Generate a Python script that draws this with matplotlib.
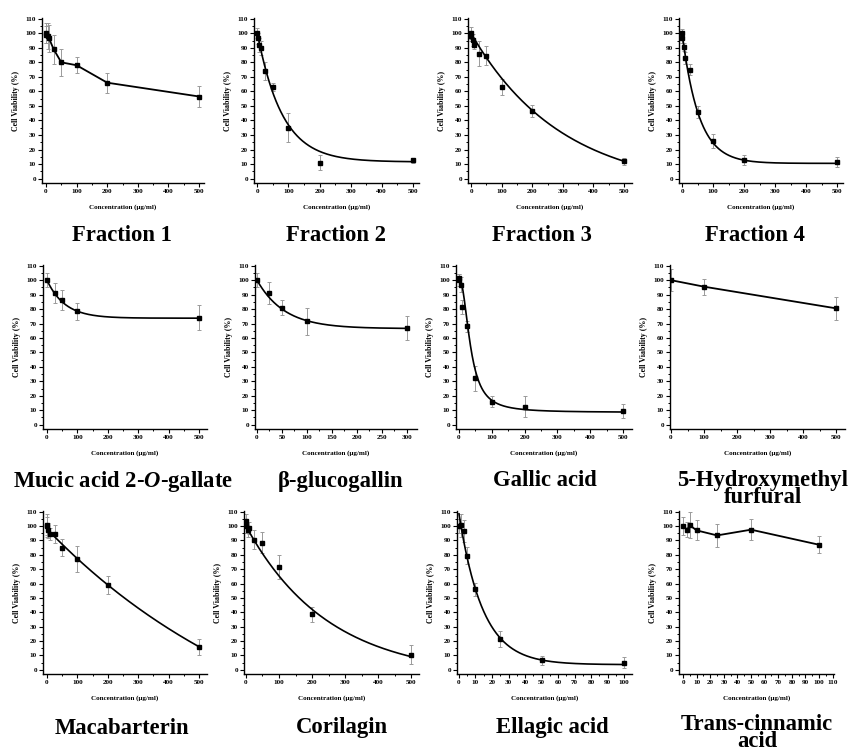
import numpy as np
import matplotlib
matplotlib.use("Agg")
import matplotlib.pyplot as plt
from matplotlib.ticker import MultipleLocator

plt.rcParams["font.family"] = ["Liberation Serif", "DejaVu Serif"]
plt.rcParams["mathtext.fontset"] = "custom"
plt.rcParams["mathtext.it"] = "Liberation Serif:italic:bold"
plt.rcParams["mathtext.rm"] = "Liberation Serif:bold"

# ---- cell viability data (mean and SD) ----
fr1_conc = [0, 1, 5, 10, 25, 50, 100, 200, 500]
fr1_viab = [100, 99, 98, 96.5, 89, 80, 78, 66, 56.5]
fr1_err = [7, 6, 9, 9.5, 10, 9.5, 5.5, 7, 7.5]

fr2_conc = [0, 1, 5, 10, 25, 50, 100, 200, 500]
fr2_viab = [100, 96.5, 92, 90, 74, 63, 35, 11, 12.5]
fr2_err = [3.5, 4, 5, 5, 6, 2.5, 10, 5, 2]
fr2_fit = (11.5, 88.5, 80)          # y0, A, t  (exponential decay)

fr3_conc = [0, 1, 5, 10, 25, 50, 100, 200, 500]
fr3_viab = [100, 98, 95.5, 92, 86, 84.5, 63, 46.5, 12]
fr3_err = [4, 3, 4, 3, 8.5, 6.5, 5.5, 4, 2.5]
fr3_fit = (-8, 108, 296)

fr4_conc = [0, 1, 5, 10, 25, 50, 100, 200, 500]
fr4_viab = [100, 96.5, 90.5, 83, 75, 46, 26, 13, 11.5]
fr4_err = [3, 3, 3, 4, 4, 4, 5, 3.5, 3.5]
fr4_fit = (10.5, 89.5, 54)

mucic_conc = [0, 25, 50, 100, 500]
mucic_viab = [100, 91, 86.5, 78.5, 74]
mucic_err = [5, 7, 7, 6, 8.5]
mucic_fit = (73.7, 26.3, 59)

gluco_conc = [0, 25, 50, 100, 300]
gluco_viab = [100, 91, 81, 71.5, 67]
gluco_err = [5, 7.5, 5, 9.5, 8.5]
gluco_fit = (66.5, 33.5, 55)

gallic_conc = [0, 1, 5, 10, 25, 50, 100, 200, 500]
gallic_viab = [100, 101.5, 97, 81.5, 68, 32, 16, 12.5, 9.5]
gallic_err = [4, 3, 5, 5, 4, 8.5, 3.5, 7.5, 5]
gallic_fit = (101, 8.5, 35, 2.2)    # top, bottom, x0, p  (logistic)

hmf_conc = [0, 100, 500]
hmf_viab = [100, 95.5, 80.5]
hmf_err = [7.5, 5.5, 8]

maca_conc = [0, 1, 5, 10, 25, 50, 100, 200, 500]
maca_viab = [100, 100.5, 97, 94.5, 94.5, 85, 77, 59, 16]
maca_err = [6, 8, 5, 4, 6.5, 6, 9, 6, 5.5]
maca_fit = (-80, 178, 809)

cori_conc = [0, 1, 5, 10, 25, 50, 100, 200, 500]
cori_viab = [100, 103.5, 97.5, 98.5, 90.5, 88.5, 71.5, 38.5, 10.5]
cori_err = [5, 5, 5, 4, 6.5, 7.5, 8.5, 5.5, 6.5]
cori_fit = (-5, 105, 249)

ellagic_conc = [0, 1, 3, 5, 10, 25, 50, 100]
ellagic_viab = [100, 100.5, 96.5, 79.5, 56, 21.5, 6.5, 5]
ellagic_err = [5, 8, 7.5, 6, 4.5, 5.5, 3, 3.5]
ellagic_fit = (3.5, 105, 14.4)

trans_conc = [0, 3, 5, 10, 25, 50, 100]
trans_viab = [100, 97.5, 100.5, 97, 93.5, 97.5, 87]
trans_err = [6.5, 5, 9, 7, 8, 7.5, 6]

titles = ["Fraction 1", "Fraction 2", "Fraction 3", "Fraction 4",
          r"Mucic acid 2-$\mathit{O}$-gallate", "β-glucogallin", "Gallic acid",
          "5-Hydroxymethyl\nfurfural",
          "Macabarterin", "Corilagin", "Ellagic acid", "Trans-cinnamic\nacid"]


def expdec(x, p):
    y0, a, t = p
    return y0 + a * np.exp(-x / t)


def logistic(x, p):
    top, bottom, x0, pw = p
    return bottom + (top - bottom) / (1 + (x / x0) ** pw)


W, H = 853, 756
fig = plt.figure(figsize=(W / 100, H / 100), dpi=100)

# pixel boxes: (left, right, top, bottom), x-limits, major/minor x step
panels = [
    (fr1_conc, fr1_viab, fr1_err, None, None, (42, 204, 18, 183), (-13, 516), 100, 50),
    (fr2_conc, fr2_viab, fr2_err, expdec, fr2_fit, (254, 419, 18, 183), (-11, 520), 100, 50),
    (fr3_conc, fr3_viab, fr3_err, expdec, fr3_fit, (468, 632, 18, 183), (-10, 526), 100, 50),
    (fr4_conc, fr4_viab, fr4_err, expdec, fr4_fit, (679, 843, 18, 183), (-10, 519), 100, 50),
    (mucic_conc, mucic_viab, mucic_err, expdec, mucic_fit, (43, 207, 265, 429), (-13, 526), 100, 50),
    (gluco_conc, gluco_viab, gluco_err, expdec, gluco_fit, (255, 417, 265, 429), (-4, 320), 50, 25),
    (gallic_conc, gallic_viab, gallic_err, logistic, gallic_fit, (456, 632, 265, 429), (-9, 527), 100, 50),
    (hmf_conc, hmf_viab, hmf_err, None, None, (670, 845, 265, 429), (-3, 527), 100, 50),
    (maca_conc, maca_viab, maca_err, expdec, maca_fit, (43, 207, 511, 674), (-13, 526), 100, 50),
    (cori_conc, cori_viab, cori_err, expdec, cori_fit, (244, 419, 511, 674), (-6, 524), 100, 50),
    (ellagic_conc, ellagic_viab, ellagic_err, expdec, ellagic_fit, (457, 632, 511, 674), (-1.2, 104.8), 10, 5),
    (trans_conc, trans_viab, trans_err, None, None, (679, 834, 511, 674), (-3, 111), 10, 5),
]

title_pos = [(122, 235), (336, 235), (542, 235), (755, 235),
             (123, 481), (341, 481), (545, 481), (763, 489),
             (122, 728), (342, 728), (552, 728), (757, 733)]

tick_font = dict(family="Liberation Serif", weight="bold", size=5.1)

for (cx, cy, ce, fn, par, box, xl, maj, mnr), title, tp in zip(panels, titles, title_pos):
    l, r, t, b = box
    ax = fig.add_axes([l / W, 1 - b / H, (r - l) / W, (b - t) / H])
    ax.errorbar(cx, cy, yerr=ce, fmt="none", ecolor="#9a9a9a", elinewidth=0.7,
                capsize=1.6, capthick=0.7, zorder=2)
    if fn is None:
        ax.plot(cx, cy, color="black", lw=1.3, zorder=3)
    else:
        xs = np.linspace(0, max(cx), 400)
        ax.plot(xs, fn(xs, par), color="black", lw=1.2, zorder=3)
    ax.plot(cx, cy, ls="none", marker="s", ms=2.8, color="black", zorder=4)

    ax.set_xlim(*xl)
    ax.set_ylim(-3, 110.5)
    ax.xaxis.set_major_locator(MultipleLocator(maj))
    ax.xaxis.set_minor_locator(MultipleLocator(mnr))
    ax.yaxis.set_major_locator(MultipleLocator(10))
    ax.yaxis.set_minor_locator(MultipleLocator(5))
    ax.set_yticks(np.arange(0, 111, 10))
    xt = np.arange(0, xl[1] + 0.01, maj)
    ax.set_xticks(xt)
    ax.set_xticklabels([f"{v:g}" for v in xt], fontdict=tick_font)
    ax.set_yticklabels([f"{v:g}" for v in np.arange(0, 111, 10)], fontdict=tick_font)
    ax.tick_params(which="major", direction="out", length=2.6, width=0.8, pad=1.8)
    ax.tick_params(which="minor", direction="out", length=1.5, width=0.7)
    for s in ("top", "right"):
        ax.spines[s].set_visible(False)
    for s in ("left", "bottom"):
        ax.spines[s].set_linewidth(1.0)
    ax.set_ylabel("Cell Viability (%)", fontsize=5.7, fontweight="bold", labelpad=3.5)
    ax.set_xlabel("Concentration (μg/ml)", fontsize=5, fontweight="bold", labelpad=7)

    fig.text(tp[0] / W, 1 - tp[1] / H, title, ha="center", va="center",
             fontsize=16.3, fontweight="bold", linespacing=0.8)

fig.savefig("out.png", dpi=100)
